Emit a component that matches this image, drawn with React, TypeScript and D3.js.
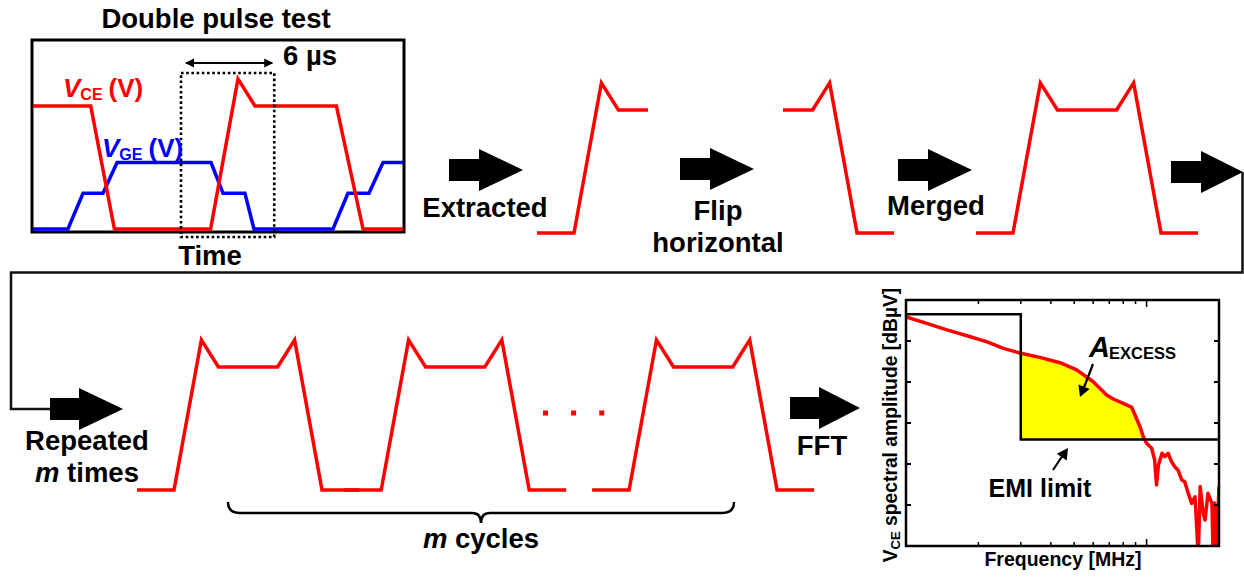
import React from "react";
import * as d3 from "d3";

// ---------- Data ----------
// Double pulse test waveforms: time (µs) and normalised voltage
const vceTime = [0, 3.9, 5.5, 12.0, 13.85, 15.0, 20.5, 22.3, 25.0];
const vceValue = [1, 1, 0, 0, 1.22, 1, 1, 0, 0];
const vgeTime = [0, 2.36, 3.38, 4.73, 5.68, 12.03, 12.84, 14.32, 14.93, 20.27, 21.28, 22.7, 23.65, 25];
const vgeValue = [0, 0, 0.29, 0.29, 0.54, 0.54, 0.29, 0.29, 0, 0, 0.29, 0.29, 0.54, 0.54];
const windowStart = 10.0; // dotted 6 µs window
const windowEnd = 16.3;
const extractStart = 9.5;
const extractEnd = 17.0;
const cycleStarts = [0, 14.0, 30.75]; // repeated cycles (time units)
const cycleDots = [27.6, 29.5, 31.4];

// FFT spectrum
const freqMHz = [1.0, 1.22, 1.48, 1.85, 2.16, 2.54, 3.0, 3.6, 4.37, 5.12, 6.0, 6.82, 7.27, 8.0, 8.67, 8.95, 9.39, 9.69, 10.0, 10.5, 10.8, 11.0, 11.2, 11.6, 11.9, 12.3, 12.7, 13.1, 13.5, 14.0, 14.4, 14.9, 15.4, 15.9, 16.4, 16.7, 17.2, 17.5, 18.0, 18.7, 18.9, 19.2, 19.5, 20.0];
const ampDb = [111.7, 108.6, 105.4, 102.1, 99.7, 96.4, 94.0, 92.0, 89.4, 85.9, 80.1, 73.7, 71.7, 69.6, 67.7, 63.9, 58.2, 53.3, 50.1, 47.7, 42.0, 29.8, 39.5, 45.2, 43.6, 45.2, 41.1, 38.7, 37.1, 32.2, 31.4, 25.7, 20.8, 24.0, -5, 29.0, 16.0, 12.7, 25.7, 20.8, -5, 21.0, -5, 29.0];
const limitFreq = [1, 3, 3, 20];
const limitDb = [113, 113, 52, 52];
const limitLow = 52;
const excessStart = 3;
const yTicks = [0, 20, 40, 60, 80, 100, 120];
const xTicks = [2, 3, 4, 5, 6, 7, 8, 9, 10, 20];

// ---------- Layout ----------
const W = 1244;
const H = 578;
const PX = 14.8; // px per time unit
const FONT = "'Liberation Sans', Arial, Helvetica, sans-serif";
const RED = "#ff0000";
const BLUE = "#0000ff";

type Pt = [number, number];

function slice(ts: number[], vs: number[], a: number, b: number): Pt[] {
  const interp = d3.scaleLinear().domain(ts).range(vs);
  const pts: Pt[] = [[a, interp(a)]];
  ts.forEach((t, i) => {
    if (t > a && t < b) pts.push([t, vs[i]]);
  });
  pts.push([b, interp(b)]);
  return pts.map(([t, v]) => [t - a, v]);
}

const extracted = slice(vceTime, vceValue, extractStart, extractEnd);
const span = extractEnd - extractStart;
const flipped: Pt[] = extracted.map(([t, v]) => [span - t, v] as Pt).reverse();
const merged: Pt[] = [...extracted, ...flipped.map(([t, v]) => [t + span, v] as Pt)];

function blockArrow(tipX: number, cy: number, len = 74, headLen = 44, shaftH = 11, headH = 21) {
  const x0 = tipX - len;
  const xh = tipX - headLen;
  return `M${x0},${cy - shaftH}L${xh},${cy - shaftH}L${xh},${cy - headH}L${tipX},${cy}L${xh},${cy + headH}L${xh},${cy + shaftH}L${x0},${cy + shaftH}Z`;
}

function headAt(x1: number, y1: number, x2: number, y2: number, l = 11, w = 5.5) {
  const a = Math.atan2(y2 - y1, x2 - x1);
  const bx = x2 - l * Math.cos(a);
  const by = y2 - l * Math.sin(a);
  const nx = -Math.sin(a) * w;
  const ny = Math.cos(a) * w;
  return `M${x2},${y2}L${bx + nx},${by + ny}L${bx - nx},${by - ny}Z`;
}

function Wave({ pts, x0, base, color = RED }: { pts: Pt[]; x0: number; base: number; color?: string }) {
  const x = d3.scaleLinear().domain([0, 1]).range([x0, x0 + PX]);
  const y = d3.scaleLinear().domain([0, 1]).range([base, base - 123]);
  const line = d3.line<Pt>().x((d) => x(d[0])).y((d) => y(d[1]));
  return <path d={line(pts) || ""} fill="none" stroke={color} strokeWidth={3.5} strokeLinejoin="miter" strokeMiterlimit={10} />;
}

export default function App() {
  // Double pulse box
  const box = { l: 32, t: 40, r: 404, b: 232 };
  const bx = d3.scaleLinear().domain([0, 25]).range([33, 33 + 25 * PX]);
  const by = d3.scaleLinear().domain([0, 1]).range([229, 106]);
  const vceLine = d3.line<number>().x((d, i) => bx(vceTime[i])).y((d) => by(d));
  const vgeLine = d3.line<number>().x((d, i) => bx(vgeTime[i])).y((d) => by(d));

  // FFT chart
  const fx = d3.scaleLog().domain([1, 20]).range([906, 1219]);
  const fy = d3.scaleLinear().domain([0, 120]).range([546, 300]);
  const spec = d3.line<number>().x((d, i) => fx(freqMHz[i])).y((d) => fy(d));
  const limitLine = d3.line<number>().x((d, i) => fx(limitFreq[i])).y((d) => fy(d));

  // excess area (between spectrum and limit, from excessStart up to crossing)
  const interpDb = d3.scaleLog().domain(freqMHz.slice(0, 20)).range(ampDb.slice(0, 20));
  const areaPts: Pt[] = [[excessStart, interpDb(excessStart)]];
  for (let i = 0; i < freqMHz.length; i++) {
    const f = freqMHz[i];
    if (f <= excessStart) continue;
    if (ampDb[i] <= limitLow) {
      const f0 = freqMHz[i - 1];
      const a0 = ampDb[i - 1];
      const k = (a0 - limitLow) / (a0 - ampDb[i]);
      const fc = Math.pow(10, Math.log10(f0) + k * (Math.log10(f) - Math.log10(f0)));
      areaPts.push([fc, limitLow]);
      break;
    }
    areaPts.push([f, ampDb[i]]);
  }
  const excessArea = d3
    .area<Pt>()
    .x((d) => fx(d[0]))
    .y0(fy(limitLow))
    .y1((d) => fy(d[1]));

  const pl = fx.range()[0];
  const pr = fx.range()[1];
  const pt = fy.range()[1];
  const pb = fy.range()[0];

  const textStyle = { fontFamily: FONT, fontWeight: 700 as const };

  // repeated cycles
  const repX = d3.scaleLinear().domain([0, 1]).range([137, 137 + PX]);

  return (
    <svg width={W} height={H} style={{ position: "absolute", left: 0, top: 0, background: "#fff" }} fontFamily={FONT}>
      {/* ---------- Double pulse test ---------- */}
      <text x={216} y={28} textAnchor="middle" fontSize={27.5} {...textStyle}>Double pulse test</text>
      <rect x={box.l} y={box.t} width={box.r - box.l} height={box.b - box.t} fill="none" stroke="#000" strokeWidth={3} />
      <path d={vgeLine(vgeValue) || ""} fill="none" stroke={BLUE} strokeWidth={3.5} />
      <path d={vceLine(vceValue) || ""} fill="none" stroke={RED} strokeWidth={3.5} />
      <rect
        x={bx(windowStart)}
        y={73}
        width={bx(windowEnd) - bx(windowStart)}
        height={164}
        fill="none"
        stroke="#000"
        strokeWidth={2.6}
        strokeDasharray="2.6,2.6"
      />
      {/* 6 µs double arrow */}
      <line x1={bx(windowStart) + 5} y1={63} x2={bx(windowEnd) - 2} y2={63} stroke="#000" strokeWidth={1.8} />
      <path d={headAt(bx(windowEnd), 63, bx(windowStart) + 4, 63, 9, 4.5)} fill="#000" />
      <path d={headAt(bx(windowStart), 63, bx(windowEnd) - 1, 63, 9, 4.5)} fill="#000" />
      <text x={283} y={65} fontSize={27.5} {...textStyle}>6 µs</text>
      <text x={63} y={97} fill={RED} {...textStyle} fontSize={26}>
        <tspan fontStyle="italic">V</tspan>
        <tspan fontSize={16} dy={3}>CE</tspan>
        <tspan dy={-3} dx={6}>(V)</tspan>
      </text>
      <text x={102} y={157} fill={BLUE} {...textStyle} fontSize={26}>
        <tspan fontStyle="italic">V</tspan>
        <tspan fontSize={16} dy={3}>GE</tspan>
        <tspan dy={-3} dx={6}>(V)</tspan>
      </text>
      <text x={210} y={265} textAnchor="middle" fontSize={27.5} {...textStyle}>Time</text>

      {/* ---------- Top row steps ---------- */}
      <path d={blockArrow(523, 170)} fill="#000" />
      <text x={485} y={217} textAnchor="middle" fontSize={27.5} {...textStyle}>Extracted</text>
      <Wave pts={extracted} x0={537} base={233} />

      <path d={blockArrow(754, 169)} fill="#000" />
      <text x={718} y={220} textAnchor="middle" fontSize={27.5} {...textStyle}>Flip</text>
      <text x={718} y={252} textAnchor="middle" fontSize={27.5} {...textStyle}>horizontal</text>
      <Wave pts={flipped} x0={783} base={233} />

      <path d={blockArrow(972, 170)} fill="#000" />
      <text x={936} y={215} textAnchor="middle" fontSize={27.5} {...textStyle}>Merged</text>
      <Wave pts={merged} x0={976} base={233} />

      <path d={blockArrow(1243, 172, 72, 42)} fill="#000" />
      {/* connector */}
      <path d="M1242.5,172L1242.5,272.5L11,272.5L11,409L60,409" fill="none" stroke="#111" strokeWidth={2.5} />

      {/* ---------- Bottom row ---------- */}
      <path d={blockArrow(123, 409, 73)} fill="#000" />
      <text x={87} y={450} textAnchor="middle" fontSize={27.5} {...textStyle}>Repeated</text>
      <text x={87} y={482} textAnchor="middle" fontSize={27.5} {...textStyle}>
        <tspan fontStyle="italic">m</tspan> times
      </text>
      {cycleStarts.map((c, i) => (
        <Wave key={i} pts={merged} x0={repX(c)} base={490} />
      ))}
      {cycleDots.map((c, i) => (
        <rect key={i} x={repX(c) - 2.5} y={410.5} width={5} height={5} fill={RED} />
      ))}
      {/* brace */}
      <path
        d="M228,502Q228,513 240,513L472,513Q481,513 481,523Q481,513 490,513L722,513Q734,513 734,502"
        fill="none"
        stroke="#000"
        strokeWidth={2.5}
      />
      <text x={481} y={548} textAnchor="middle" fontSize={27.5} {...textStyle}>
        <tspan fontStyle="italic">m</tspan> cycles
      </text>

      <path d={blockArrow(860, 408, 70, 41)} fill="#000" />
      <text x={822} y={455} textAnchor="middle" fontSize={27.5} {...textStyle}>FFT</text>

      {/* ---------- FFT chart ---------- */}
      <defs>
        <clipPath id="plotClip">
          <rect x={pl} y={pt} width={pr - pl} height={pb - pt} />
        </clipPath>
      </defs>
      <path d={excessArea(areaPts) || ""} fill="#ffff00" />
      <g clipPath="url(#plotClip)">
        <path d={spec(ampDb) || ""} fill="none" stroke={RED} strokeWidth={3.5} strokeLinejoin="round" />
      </g>
      <path d={limitLine(limitDb) || ""} fill="none" stroke="#000" strokeWidth={2.5} />
      {yTicks.map((t) => (
        <g key={"y" + t}>
          <line x1={pl} x2={pl + 5} y1={fy(t)} y2={fy(t)} stroke="#000" strokeWidth={2} />
          <line x1={pr} x2={pr - 5} y1={fy(t)} y2={fy(t)} stroke="#000" strokeWidth={2} />
        </g>
      ))}
      {xTicks.map((t) => (
        <g key={"x" + t}>
          <line x1={fx(t)} x2={fx(t)} y1={pb} y2={pb - (t === 10 ? 7 : 4)} stroke="#000" strokeWidth={1.5} />
          <line x1={fx(t)} x2={fx(t)} y1={pt} y2={pt + (t === 10 ? 7 : 4)} stroke="#000" strokeWidth={1.5} />
        </g>
      ))}
      <rect x={pl} y={pt} width={pr - pl} height={pb - pt} fill="none" stroke="#000" strokeWidth={2.5} />
      <text x={1063} y={566} textAnchor="middle" fontSize={19.5} {...textStyle}>Frequency [MHz]</text>
      <text transform="translate(897,425) rotate(-90)" textAnchor="middle" fontSize={19.3} {...textStyle}>
        V<tspan fontSize={13} dy={3}>CE</tspan>
        <tspan dy={-3}> spectral amplitude [dBµV]</tspan>
      </text>
      <text x={1089} y={357} {...textStyle} fontSize={29}>
        <tspan fontStyle="italic">A</tspan>
        <tspan fontSize={16.5} dx={-1} dy={2}>EXCESS</tspan>
      </text>
      <line x1={1093} y1={364} x2={1083} y2={390} stroke="#000" strokeWidth={2.2} />
      <path d={headAt(1093, 364, 1080, 397, 11, 6)} fill="#000" />
      <line x1={1053} y1={470} x2={1063} y2={455} stroke="#000" strokeWidth={2.2} />
      <path d={headAt(1053, 470, 1068, 448, 11, 6)} fill="#000" />
      <text x={1040} y={497} textAnchor="middle" fontSize={25} {...textStyle}>EMI limit</text>
    </svg>
  );
}
